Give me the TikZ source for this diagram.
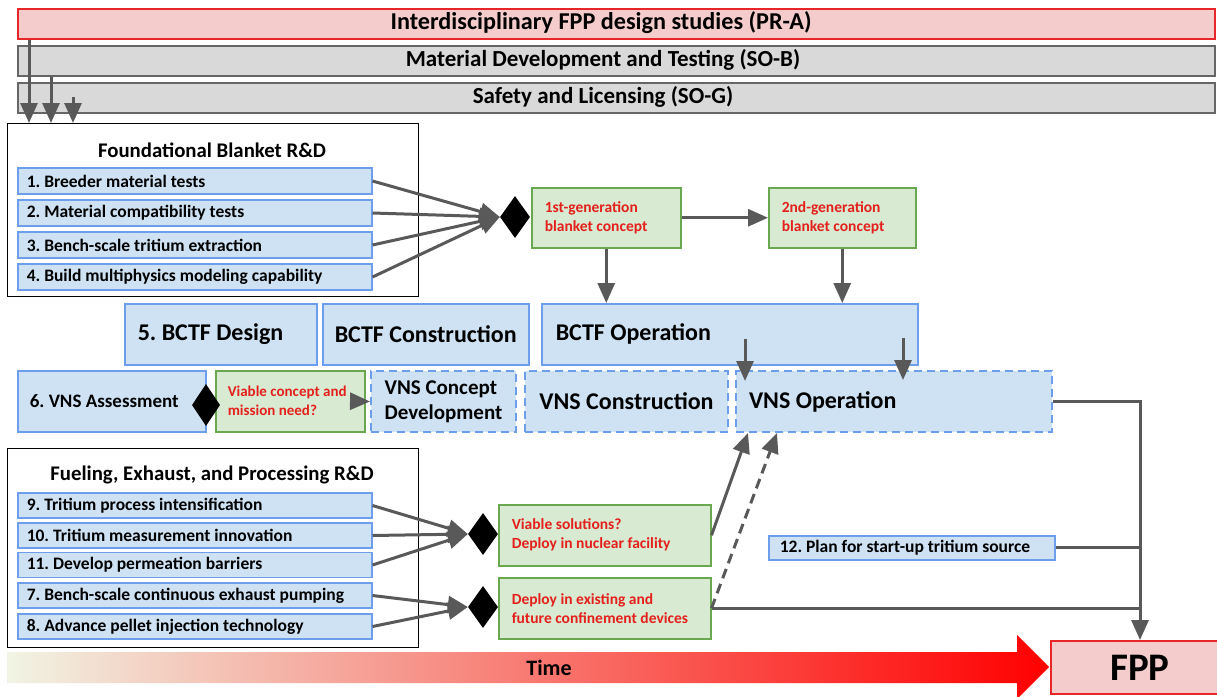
\documentclass[tikz,border=0pt]{standalone}
\usepackage{fontspec}
\setmainfont{Carlito}
\usetikzlibrary{arrows.meta,shapes.geometric}
\definecolor{bfill}{HTML}{CFE2F3}
\definecolor{bdraw}{HTML}{6D9EEB}
\definecolor{gfill}{HTML}{D9EAD3}
\definecolor{gdraw}{HTML}{6AA84F}
\definecolor{rfill}{HTML}{F4CCCC}
\definecolor{rdraw}{HTML}{E8262A}
\definecolor{grfill}{HTML}{D9D9D9}
\definecolor{grdraw}{HTML}{666666}
\definecolor{agray}{HTML}{595959}
\definecolor{rtext}{HTML}{E3201B}
\definecolor{tstart}{HTML}{F1F4E4}
\newcommand\fsz[2]{\fontsize{#1}{#2}\selectfont}
\tikzset{
  arr/.style={draw=agray, line width=3pt, -{Triangle[length=20pt,width=17pt]}},
  ln/.style={draw=agray, line width=3pt},
  bar/.style={line width=2pt, minimum width=1197pt, minimum height=30pt, inner sep=0pt, anchor=north west},
  bartext/.style={font=\bfseries\fsz{23}{26}},
  grp/.style={draw=black, line width=1.2pt, anchor=north west, inner sep=0pt},
  grptitle/.style={font=\bfseries\fsz{20.8}{24}},
  item/.style={draw=bdraw, fill=bfill, line width=1.5pt, minimum width=354pt, text width=336pt, inner xsep=9pt, inner ysep=0pt, align=flush left, anchor=west, font=\bfseries\fsz{17.5}{20}},
  gbox/.style={draw=gdraw, fill=gfill, line width=1.5pt, text=rtext, align=flush left, anchor=north west, inner xsep=13pt, font=\bfseries\fsz{15.5}{19}},
  bbox/.style={draw=bdraw, fill=bfill, line width=1.5pt, anchor=north west, inner sep=0pt, font=\bfseries\fsz{24}{28}},
  dbox/.style={bbox, dash pattern=on 8pt off 5pt, line width=2pt},
  dia/.style={diamond, fill=black, inner sep=0pt, minimum width=30pt, minimum height=42pt},
}
\begin{document}
\frenchspacing
\begin{tikzpicture}[x=1pt,y=-1pt]
\useasboundingbox (0,0) rectangle (1217,696);
\clip (0,0) rectangle (1217,696);
% top bars
\node[bar, draw=rdraw, fill=rfill] (pra) at (17,8) {};
\node[bartext, font=\bfseries\fsz{24.2}{27}] (prat) at (601,23) {Interdisciplinary FPP design studies (PR-A)};
\node[bar, draw=grdraw, fill=grfill] (sob) at (17,45) {};
\node[bartext] (sobt) at (603,60) {Material Development and Testing (SO-B)};
\node[bar, draw=grdraw, fill=grfill] (sog) at (17,82) {};
\node[bartext] (sogt) at (603,97) {Safety and Licensing (SO-G)};
% foundational group
\node[grp, minimum width=411pt, minimum height=173pt] (fb) at (7,123) {};
\node[grptitle] (fbt) at (212,150) {Foundational Blanket R\&D};
\node[item, minimum height=26pt] (i1) at (17,181) {1. Breeder material tests};
\node[item, minimum height=26pt] (i2) at (17,213) {2. Material compatibility tests};
\node[item, minimum height=26pt] (i3) at (17,245) {3. Bench-scale tritium extraction};
\node[item, minimum height=26pt] (i4) at (17,277) {4. Build multiphysics modeling capability};
\draw[arr] ([xshift=12pt]pra.south west) -- ([xshift=22pt]fb.north west);
\draw[arr] ([xshift=34pt]sob.south west) -- ([xshift=44pt]fb.north west);
\draw[arr] ([xshift=56pt,yshift=17pt]sog.south west) -- ([xshift=66pt]fb.north west);
% blanket concepts
\node[dia] (d1) at (515,217) {};
\node[gbox, minimum width=149pt, minimum height=60pt, text width=123pt] (g1) at (531,187) {\mbox{1st-generation}\\\mbox{blanket concept}};
\node[gbox, minimum width=147pt, minimum height=60pt, text width=121pt] (g2) at (768,187) {\mbox{2nd-generation}\\\mbox{blanket concept}};
\foreach \i in {i1,i2,i3,i4} \draw[arr] (\i.east) -- (d1.west);
\draw[arr] (g1.east) -- (g2.west);
% BCTF row
\node[bbox, minimum width=188pt, minimum height=61pt, text width=166pt, inner xsep=13pt, align=flush left] (bd) at (124,303) {\mbox{5. BCTF Design}};
\node[bbox, minimum width=206pt, minimum height=61pt] (bc) at (322,303) {BCTF Construction};
\node[bbox, minimum width=376pt, minimum height=61pt, text width=348pt, inner xsep=14pt, align=flush left] (bo) at (541,303) {\mbox{BCTF Operation}};
\draw[arr] (g1.south) -- (g1.south |- bo.north);
\draw[arr] (g2.south) -- (g2.south |- bo.north);
% VNS row
\node[bbox, minimum width=188pt, minimum height=61pt, text width=164pt, inner xsep=12pt, align=flush left, font=\bfseries\fsz{19}{22}] (va) at (17,370) {\mbox{6. VNS Assessment}};
\node[gbox, minimum width=149pt, minimum height=61pt, text width=125pt, inner xsep=12pt, font=\bfseries\fsz{15}{19}] (vc) at (215,370) {\mbox{Viable concept and}\\\mbox{mission need?}};
\node[dia, minimum width=28pt] (d3) at (206,405) {};
\node[dbox, minimum width=145pt, minimum height=61pt, align=flush left, font=\bfseries\fsz{21}{25}] (vcd) at (370,370) {VNS Concept\\Development};
\node[dbox, minimum width=203pt, minimum height=61pt] (vcn) at (524,370) {VNS Construction};
\node[dbox, minimum width=316pt, minimum height=61pt, text width=290pt, inner xsep=13pt, align=flush left] (vo) at (735,370) {\mbox{VNS Operation}};
\draw[arr] ([xshift=-14pt]vc.east) -- (vcd.west);
\draw[arr] ([xshift=204pt,yshift=27pt]bo.south west) -- ([xshift=10pt,yshift=-11pt]vo.north west);
\draw[arr] ([xshift=362pt,yshift=28pt]bo.south west) -- ([xshift=168pt,yshift=-10pt]vo.north west);
% fueling group
\node[grp, minimum width=411pt, minimum height=199pt] (fe) at (7,448) {};
\node[grptitle] (fet) at (212,475) {Fueling, Exhaust, and Processing R\&D};
\node[item, minimum height=25pt] (i9) at (17,505.5) {9. Tritium process intensification};
\node[item, minimum height=25pt] (i10) at (17,535.5) {10. Tritium measurement innovation};
\node[item, minimum height=25pt] (i11) at (17,565) {11. Develop permeation barriers};
\node[item, minimum height=25pt] (i7) at (17,595.5) {7. Bench-scale continuous exhaust pumping};
\node[item, minimum height=25pt] (i8) at (17,626.5) {8. Advance pellet injection technology};
\node[dia] (d4) at (483,534) {};
\node[dia] (d5) at (483,607) {};
\foreach \i in {i9,i10,i11} \draw[arr] (\i.east) -- (d4.west);
\foreach \i in {i7,i8} \draw[arr] (\i.east) -- (d5.west);
\node[gbox, minimum width=212pt, minimum height=61pt, text width=186pt] (vs) at (498,504) {\mbox{Viable solutions?}\\\mbox{Deploy in nuclear facility}};
\node[gbox, minimum width=212pt, minimum height=61pt, text width=186pt] (de) at (498,577) {\mbox{Deploy in existing and}\\\mbox{future confinement devices}};
\node[draw=bdraw, fill=bfill, line width=1.5pt, anchor=north west, minimum width=286pt, minimum height=24pt, text width=264pt, inner xsep=11pt, inner ysep=0pt, align=flush left, font=\bfseries\fsz{17.5}{20}] (p12) at (768,535) {12. Plan for start-up tritium source};
% time arrow
\shade[left color=tstart, right color=red] (7,652) -- (1017,652) -- (1017,635) -- (1049,667) -- (1017,699) -- (1017,683) -- (7,683) -- cycle;
\node[font=\bfseries\fsz{22}{26}] (time) at (549,668) {Time};
\node[draw=rdraw, fill=rfill, line width=2pt, anchor=north west, minimum width=178pt, minimum height=53pt, inner sep=0pt, font=\bfseries\fsz{39}{44}] (fpp) at (1050,640) {FPP};
% connectors
\coordinate (vsend) at ([xshift=13pt]vo.south west);
\draw[arr] (vs.east) -- (vsend);
\draw[arr, dash pattern=on 10pt off 6pt] (de.east) -- ([xshift=42pt]vo.south west);
\draw[ln] (p12.east) -- (p12.east -| fpp.north);
\draw[ln] (de.east) -- (de.east -| fpp.north);
\draw[arr] (vo.east) -| (fpp.north);
\end{tikzpicture}
\end{document}
